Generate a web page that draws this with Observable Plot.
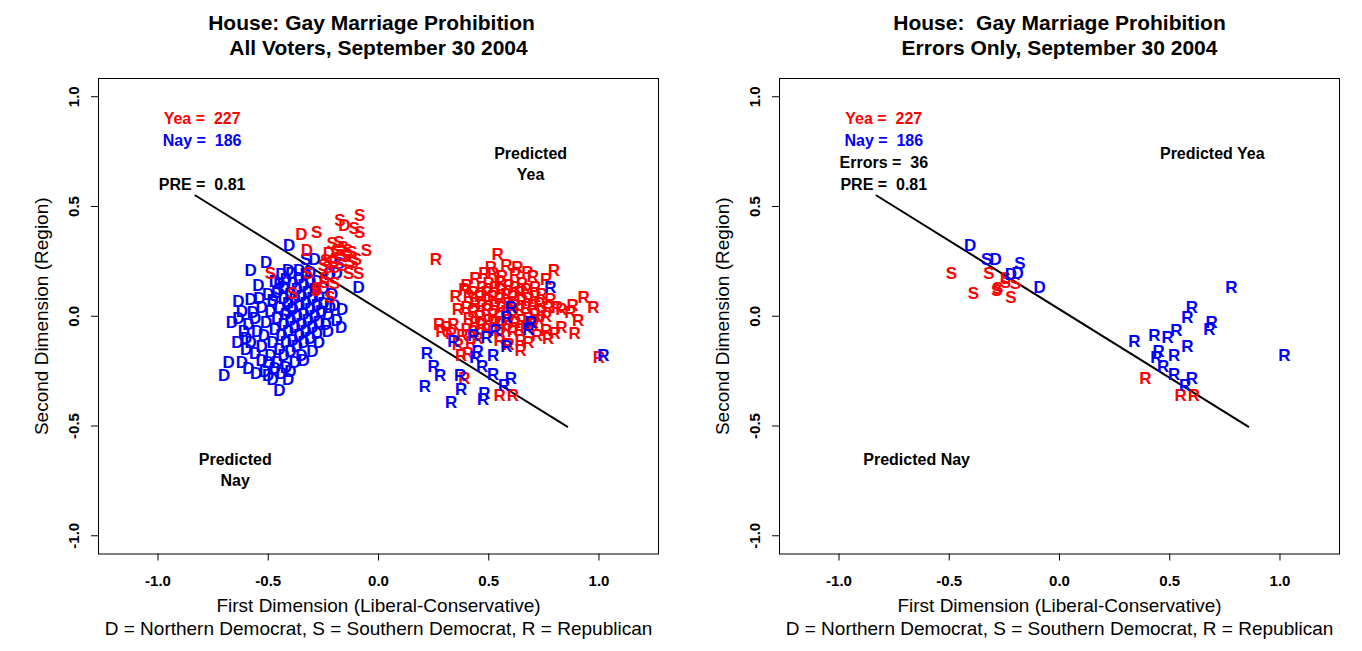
<!DOCTYPE html>
<html><head><meta charset="utf-8">
<script src="https://cdn.jsdelivr.net/npm/d3@7"></script>
<script src="https://cdn.jsdelivr.net/npm/@observablehq/plot@0.6"></script>
<style>
html,body{margin:0;padding:0;background:#fff;}
#wrap{display:flex;flex-direction:row;width:1362px;height:651px;overflow:hidden;}
#wrap svg{display:block;flex:none;}
</style></head><body><div id="wrap"></div>
<script>
// ---------- data ----------
const xTicks = [-1, -0.5, 0, 0.5, 1];
const yTicks = [-1, -0.5, 0, 0.5, 1];
const cutLineX = [-0.83, 0.856];
const cutLineY = [0.55, -0.503];

// Errors (shown in both panels) [first dimension, second dimension]
const errRedS = [[-0.49,0.195],[-0.32,0.195],[-0.245,0.155],[-0.20,0.15],[-0.28,0.127],[-0.285,0.118],[-0.39,0.105],[-0.22,0.086],[-0.245,0.17]];
const errBlueD = [[-0.405,0.32],[-0.29,0.26],[-0.22,0.19],[-0.19,0.195],[-0.09,0.13]];
const errBlueS = [[-0.33,0.26],[-0.18,0.24]];
const errBlueR = [[0.78,0.13],[0.60,0.04],[0.58,-0.005],[0.69,-0.027],[0.68,-0.06],[0.53,-0.064],[0.43,-0.086],[0.49,-0.095],[0.34,-0.114],[0.58,-0.14],[0.45,-0.16],[0.52,-0.18],[0.44,-0.186],[0.47,-0.227],[0.52,-0.264],[0.60,-0.286],[0.57,-0.314],[1.02,-0.177]];
const errRedR = [[0.39,-0.282],[0.55,-0.36],[0.61,-0.36]];

// Correctly classified (All Voters panel only)
const okRedS = [[-0.085,0.46],[-0.175,0.435],[-0.11,0.40],[-0.085,0.38],[-0.28,0.38],[-0.21,0.33],[-0.18,0.335],[-0.16,0.315],[-0.14,0.30],[-0.12,0.29],[-0.055,0.30],[-0.115,0.245],[-0.195,0.265],[-0.17,0.275],[-0.15,0.27],[-0.135,0.195],[-0.09,0.195],[-0.165,0.23],[-0.19,0.30],[-0.13,0.25],[-0.10,0.26],[-0.24,0.255],[-0.25,0.23],[-0.23,0.22],[-0.20,0.22]];
const okRedD = [[-0.155,0.415],[-0.35,0.37],[-0.325,0.30],[-0.225,0.285],[-0.20,0.25]];
const okBlueS = [[-0.48,0.07],[-0.45,0.12],[-0.41,0.02]];
const okBlueR = [[0.22,-0.17],[0.25,-0.23],[0.28,-0.27],[0.37,-0.27],[0.21,-0.32],[0.375,-0.335],[0.48,-0.35],[0.475,-0.38],[0.33,-0.395]];
const okBlueD = [
 [-0.51,0.245],[-0.58,0.21],[-0.41,0.21],[-0.395,0.195],[-0.42,0.165],[-0.31,0.20],[-0.545,0.14],[-0.635,0.065],[-0.58,0.075],[-0.57,0.015],
 [-0.635,-0.01],[-0.665,-0.03],[-0.61,-0.07],[-0.60,-0.10],[-0.68,-0.21],[-0.70,-0.27],[-0.62,-0.21],[-0.59,-0.24],[-0.555,-0.26],[-0.515,-0.25],
 [-0.42,-0.235],[-0.38,-0.21],[-0.45,-0.34],[-0.165,0.03],[-0.17,-0.05],[-0.25,0.125],[-0.21,0.10],[-0.28,0.16],[-0.33,0.19],[-0.36,0.21],
 [-0.44,0.19],[-0.47,0.16],[-0.20,0.05],[-0.19,-0.02],[-0.23,-0.07],[-0.27,-0.12],[-0.30,-0.16],[-0.34,-0.20],[-0.47,-0.24],[-0.50,-0.21],
 [-0.56,-0.17],[-0.64,-0.12],[-0.59,-0.04],[-0.53,0.04],[-0.50,0.10],
 [-0.53,-0.14],[-0.52,-0.09],[-0.51,-0.03],[-0.49,0.02],[-0.48,0.07],[-0.46,0.11],[-0.45,0.15],[-0.43,0.13],
 [-0.49,-0.18],[-0.48,-0.12],[-0.47,-0.06],[-0.46,-0.01],[-0.45,0.04],[-0.43,0.08],
 [-0.46,-0.21],[-0.45,-0.15],[-0.44,-0.09],[-0.43,-0.04],[-0.42,0.01],[-0.41,0.06],[-0.40,0.10],[-0.39,0.15],
 [-0.43,-0.18],[-0.42,-0.12],[-0.41,-0.07],[-0.40,-0.02],[-0.39,0.03],[-0.38,0.08],[-0.37,0.12],[-0.36,0.17],
 [-0.40,-0.16],[-0.39,-0.11],[-0.38,-0.05],[-0.37,0.00],[-0.36,0.05],[-0.35,0.09],[-0.34,0.14],
 [-0.37,-0.14],[-0.36,-0.09],[-0.35,-0.04],[-0.34,0.01],[-0.33,0.06],[-0.32,0.11],[-0.31,0.16],
 [-0.34,-0.12],[-0.33,-0.07],[-0.32,-0.02],[-0.31,0.03],[-0.30,0.08],[-0.29,0.12],
 [-0.31,-0.10],[-0.30,-0.05],[-0.29,0.00],[-0.28,0.05],[-0.27,0.09],
 [-0.28,-0.08],[-0.27,-0.03],[-0.26,0.02],[-0.25,0.06],[-0.24,-0.04],[-0.23,0.01],[-0.22,0.04],
 [-0.55,-0.07],[-0.56,-0.01],[-0.54,0.08],[-0.62,0.02],[-0.60,-0.15],[-0.53,-0.20],[-0.40,-0.25],[-0.35,-0.18],[-0.44,-0.26],[-0.50,-0.27],
 [-0.58,-0.12],[-0.48,-0.29],[-0.41,-0.29]
];
const okRedR = [
 [0.26,0.26],[0.54,0.28],[0.51,0.22],[0.63,0.22],[0.675,0.20],[0.795,0.21],[0.48,0.195],[0.52,0.195],[0.70,0.18],[0.76,0.165],
 [0.39,0.12],[0.78,0.075],[0.81,0.04],[0.93,0.085],[0.975,0.04],[0.88,0.05],[0.87,0.015],[0.905,-0.02],[0.83,0.03],[0.83,-0.05],
 [0.89,-0.08],[0.36,0.03],[0.275,-0.04],[0.285,-0.07],[0.34,-0.04],[0.76,-0.065],[0.77,-0.10],[0.80,-0.08],[0.645,-0.11],[0.645,-0.155],
 [0.375,-0.18],[0.405,-0.17],[1.0,-0.19],[0.70,-0.04],[0.72,-0.09],[0.31,-0.05],[0.33,-0.08],[0.35,0.09],[0.40,0.14],[0.44,0.17],
 [0.58,0.23],[0.62,0.19],[0.56,0.18],[0.71,0.13],[0.74,0.10],[0.68,-0.12],[0.59,-0.13],[0.55,-0.11],[0.42,-0.12],[0.38,-0.09],
 [0.45,-0.10],[0.36,-0.13],
 [0.40,-0.06],[0.41,-0.01],[0.40,0.04],[0.41,0.09],
 [0.43,-0.07],[0.44,-0.03],[0.43,0.02],[0.44,0.06],[0.43,0.11],
 [0.46,-0.08],[0.47,-0.04],[0.46,0.00],[0.47,0.05],[0.46,0.09],[0.47,0.13],
 [0.49,-0.06],[0.50,-0.02],[0.49,0.03],[0.50,0.07],[0.49,0.11],[0.50,0.15],
 [0.52,-0.07],[0.53,-0.03],[0.52,0.01],[0.53,0.05],[0.52,0.09],[0.53,0.13],
 [0.55,-0.08],[0.56,-0.04],[0.55,0.00],[0.56,0.04],[0.55,0.08],[0.56,0.12],[0.55,0.16],
 [0.58,-0.06],[0.59,-0.02],[0.58,0.02],[0.59,0.06],[0.58,0.10],[0.59,0.14],
 [0.61,-0.07],[0.62,-0.03],[0.61,0.01],[0.62,0.05],[0.61,0.09],[0.62,0.13],
 [0.64,-0.06],[0.65,-0.02],[0.64,0.03],[0.65,0.07],[0.64,0.11],[0.65,0.15],
 [0.67,-0.05],[0.68,-0.01],[0.67,0.04],[0.68,0.08],[0.67,0.12],
 [0.70,-0.03],[0.71,0.01],[0.70,0.05],[0.71,0.09],[0.73,-0.02],[0.74,0.02],[0.73,0.06],[0.76,0.00],[0.77,0.04]
];

const annLeftText = ["Yea =\u00a0 227", "Nay =\u00a0 186", "PRE =\u00a0 0.81", "Predicted", "Yea", "Predicted", "Nay"];
const annLeftX = [-0.80, -0.80, -0.80, 0.69, 0.69, -0.65, -0.65];
const annLeftY = [0.90, 0.80, 0.60, 0.74, 0.645, -0.656, -0.75];
const annLeftKind = ["yea", "nay", "plain", "plain", "plain", "plain", "plain"];
const annRightText = ["Yea =\u00a0 227", "Nay =\u00a0 186", "Errors =\u00a0 36", "PRE =\u00a0 0.81", "Predicted Yea", "Predicted Nay"];
const annRightX = [-0.797, -0.797, -0.797, -0.797, 0.693, -0.648];
const annRightY = [0.90, 0.80, 0.70, 0.60, 0.74, -0.656];
const annRightKind = ["yea", "nay", "plain", "plain", "plain", "plain"];

const titleLeft = ["House: Gay Marriage Prohibition", "All Voters, September 30 2004"];
const titleRight = ["House:\u00a0 Gay Marriage Prohibition", "Errors Only, September 30 2004"];
const xLabel = ["First Dimension (Liberal-Conservative)", "D = Northern Democrat, S = Southern Democrat, R = Republican"];
const yLabel = "Second Dimension (Region)";

// ---------- build ----------
const RED = "#FF0000", BLUE = "#0000FF";
const kindColor = {yea: RED, nay: BLUE, plain: "#000000"};
function pts(arr, label, color) { return arr.map(([x, y]) => ({x, y, label, color})); }

const leftPoints = [
  ...pts(okBlueD, "D", BLUE), ...pts(errBlueD, "D", BLUE), ...pts(okBlueS, "S", BLUE), ...pts(errBlueS, "S", BLUE),
  ...pts(okRedS, "S", RED), ...pts(errRedS, "S", RED), ...pts(okRedD, "D", RED),
  ...pts(okRedR, "R", RED), ...pts(errRedR, "R", RED),
  ...pts(okBlueR, "R", BLUE), ...pts(errBlueR, "R", BLUE)
];
const rightPoints = [
  ...pts(errRedS, "S", RED), ...pts(errBlueD, "D", BLUE), ...pts(errBlueS, "S", BLUE),
  ...pts(errRedR, "R", RED), ...pts(errBlueR, "R", BLUE)
];
const cutLine = cutLineX.map((x, i) => ({x, y: cutLineY[i]}));
const FONT = "'Liberation Sans', Arial, Helvetica, sans-serif";

function panel(points, annText, annX, annY, annKind, title, titleDx) {
  const ann = annText.map((t, i) => ({t, x: annX[i], y: annY[i], c: kindColor[annKind[i]]}));
  return Plot.plot({
    width: 681, height: 651,
    marginLeft: 98, marginRight: 23, marginTop: 78, marginBottom: 97.5,
    x: {domain: [-1.27, 1.27]},
    y: {domain: [-1.083, 1.083]},
    style: {fontFamily: FONT, background: "#fff", overflow: "visible", color: "#000"},
    marks: [
      Plot.frame({stroke: "#000", strokeWidth: 1}),
      Plot.axisX(xTicks, {anchor: "bottom", tickSize: 7, tickPadding: 14, tickFormat: d => d.toFixed(1), fontSize: 15, fontWeight: "bold", label: null}),
      Plot.axisY(yTicks, {anchor: "left", tickSize: 7, tickPadding: 13, tickRotate: -90, tickFormat: d => d.toFixed(1), fontSize: 15, fontWeight: "bold", label: null}),
      Plot.line(cutLine, {x: "x", y: "y", stroke: "#000", strokeWidth: 2}),
      Plot.text(points, {x: "x", y: "y", text: "label", fill: "color", fontSize: 17, fontWeight: "bold"}),
      Plot.text(ann, {x: "x", y: "y", text: "t", fill: "c", fontSize: 16, fontWeight: "bold"}),
      Plot.text([title[0]], {frameAnchor: "top", dy: -63, dx: titleDx[0], fontSize: 21, fontWeight: "bold", text: d => d}),
      Plot.text([title[1]], {frameAnchor: "top", dy: -38, dx: titleDx[1], fontSize: 21, fontWeight: "bold", text: d => d}),
      Plot.text([xLabel[0]], {frameAnchor: "bottom", dy: 57.5, fontSize: 19, text: d => d}),
      Plot.text([xLabel[1]], {frameAnchor: "bottom", dy: 80.5, fontSize: 19, text: d => d}),
      Plot.text([yLabel], {frameAnchor: "left", textAnchor: "middle", dx: -57, rotate: -90, fontSize: 19, text: d => d})
    ]
  });
}

const wrap = document.getElementById("wrap");
wrap.appendChild(panel(leftPoints, annLeftText, annLeftX, annLeftY, annLeftKind, titleLeft, [-7, 0]));
wrap.appendChild(panel(rightPoints, annRightText, annRightX, annRightY, annRightKind, titleRight, [0, 0]));
</script></body></html>
